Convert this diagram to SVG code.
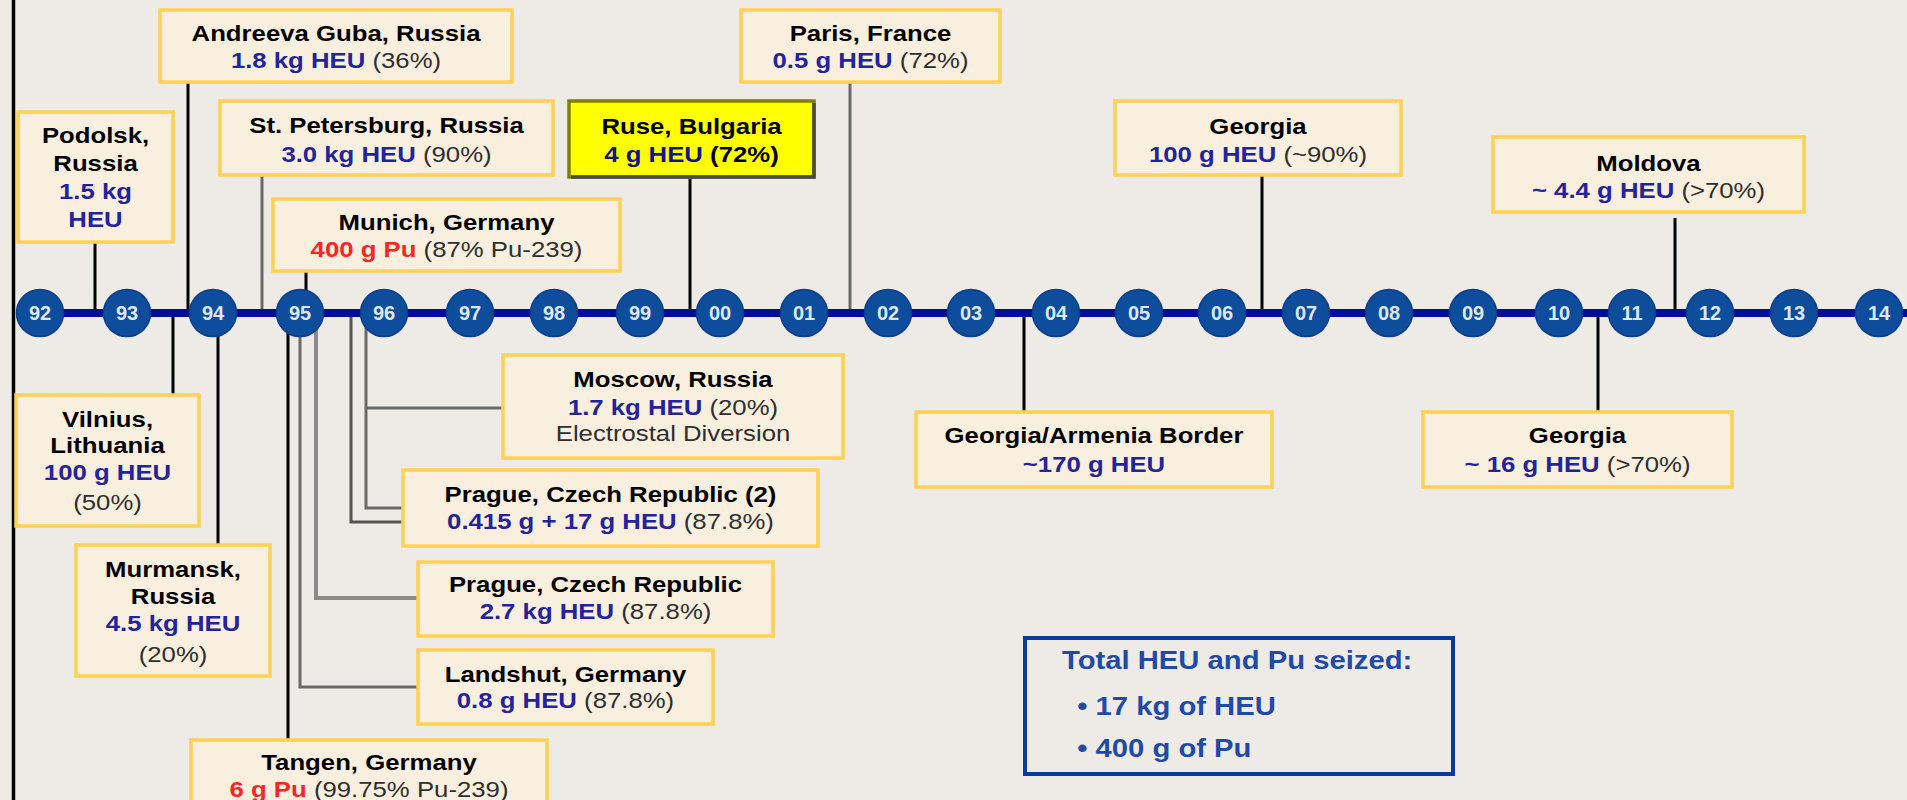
<svg xmlns="http://www.w3.org/2000/svg" width="1907" height="800" viewBox="0 0 1907 800">
<style>
.bg{fill:#eeebe6}
.bx{fill:#f9efdf;stroke:#fdd153;stroke-width:3.5}
.t{font-family:"Liberation Sans",Arial,sans-serif;font-size:22px;text-anchor:middle}
.h{font-weight:bold;fill:#000}
.v{font-weight:bold;fill:#23239c}
.p{fill:#2e2e2e}
.r{font-weight:bold;fill:#ff2424}
.k{stroke:#000;stroke-width:3;fill:none}
.g1{stroke:#6a6a6a;stroke-width:3;fill:none}
.g2{stroke:#8a8a8a;stroke-width:4;fill:none}
.g3{stroke:#555;stroke-width:3;fill:none}
.yr{fill:#0e4c9c;stroke:#0b3e8e;stroke-width:1.5}
.yt{font-family:"Liberation Sans",Arial,sans-serif;font-size:20px;font-weight:bold;fill:#dfe7f3;text-anchor:middle}
.tot{font-family:"Liberation Sans",Arial,sans-serif;font-size:25px;font-weight:bold;fill:#1f4aa6}
</style>
<rect class="bg" x="0" y="0" width="1907" height="800"/>
<line x1="13.5" y1="0" x2="13.5" y2="800" stroke="#000" stroke-width="3.5"/>

<g id="connectors">
<line class="k" x1="95" y1="242" x2="95" y2="313"/>
<line class="k" x1="188" y1="82" x2="188" y2="313"/>
<line class="g1" x1="262" y1="175" x2="262" y2="313"/>
<line class="k" x1="306" y1="271" x2="306" y2="313"/>
<line class="k" x1="690" y1="177" x2="690" y2="313"/>
<line class="g1" x1="850" y1="82" x2="850" y2="313"/>
<line class="k" x1="1262" y1="175" x2="1262" y2="313"/>
<line class="k" x1="1675" y1="218" x2="1675" y2="313"/>
<line class="k" x1="173" y1="313" x2="173" y2="395"/>
<line class="k" x1="218" y1="313" x2="218" y2="545"/>
<line class="k" x1="288" y1="313" x2="288" y2="740"/>
<polyline class="g1" points="300,313 300,687 418,687"/>
<polyline class="g2" points="316,313 316,598 418,598"/>
<polyline class="g3" points="351,313 351,522 403,522"/>
<polyline class="g1" points="366,313 366,508 403,508"/>
<line class="g1" x1="366" y1="408" x2="503" y2="408"/>
<line class="k" x1="1024" y1="313" x2="1024" y2="412"/>
<line class="k" x1="1598" y1="313" x2="1598" y2="412"/>
</g>

<g id="timeline">
<line x1="16" y1="313" x2="1907" y2="313" stroke="#000d94" stroke-width="8"/>
<g id="y92"><circle class="yr" cx="40" cy="313" r="23.5"/><text class="yt" x="40" y="320">92</text></g>
<g id="y93"><circle class="yr" cx="127" cy="313" r="23.5"/><text class="yt" x="127" y="320">93</text></g>
<g id="y94"><circle class="yr" cx="213" cy="313" r="23.5"/><text class="yt" x="213" y="320">94</text></g>
<g id="y95"><circle class="yr" cx="300" cy="313" r="23.5"/><text class="yt" x="300" y="320">95</text></g>
<g id="y96"><circle class="yr" cx="384" cy="313" r="23.5"/><text class="yt" x="384" y="320">96</text></g>
<g id="y97"><circle class="yr" cx="470" cy="313" r="23.5"/><text class="yt" x="470" y="320">97</text></g>
<g id="y98"><circle class="yr" cx="554" cy="313" r="23.5"/><text class="yt" x="554" y="320">98</text></g>
<g id="y99"><circle class="yr" cx="640" cy="313" r="23.5"/><text class="yt" x="640" y="320">99</text></g>
<g id="y00"><circle class="yr" cx="720" cy="313" r="23.5"/><text class="yt" x="720" y="320">00</text></g>
<g id="y01"><circle class="yr" cx="804" cy="313" r="23.5"/><text class="yt" x="804" y="320">01</text></g>
<g id="y02"><circle class="yr" cx="888" cy="313" r="23.5"/><text class="yt" x="888" y="320">02</text></g>
<g id="y03"><circle class="yr" cx="971" cy="313" r="23.5"/><text class="yt" x="971" y="320">03</text></g>
<g id="y04"><circle class="yr" cx="1056" cy="313" r="23.5"/><text class="yt" x="1056" y="320">04</text></g>
<g id="y05"><circle class="yr" cx="1139" cy="313" r="23.5"/><text class="yt" x="1139" y="320">05</text></g>
<g id="y06"><circle class="yr" cx="1222" cy="313" r="23.5"/><text class="yt" x="1222" y="320">06</text></g>
<g id="y07"><circle class="yr" cx="1306" cy="313" r="23.5"/><text class="yt" x="1306" y="320">07</text></g>
<g id="y08"><circle class="yr" cx="1389" cy="313" r="23.5"/><text class="yt" x="1389" y="320">08</text></g>
<g id="y09"><circle class="yr" cx="1473" cy="313" r="23.5"/><text class="yt" x="1473" y="320">09</text></g>
<g id="y10"><circle class="yr" cx="1559" cy="313" r="23.5"/><text class="yt" x="1559" y="320">10</text></g>
<g id="y11"><circle class="yr" cx="1632" cy="313" r="23.5"/><text class="yt" x="1632" y="320">11</text></g>
<g id="y12"><circle class="yr" cx="1710" cy="313" r="23.5"/><text class="yt" x="1710" y="320">12</text></g>
<g id="y13"><circle class="yr" cx="1794" cy="313" r="23.5"/><text class="yt" x="1794" y="320">13</text></g>
<g id="y14"><circle class="yr" cx="1879" cy="313" r="23.5"/><text class="yt" x="1879" y="320">14</text></g>
</g>

<g id="podolsk"><rect class="bx" x="18" y="112" width="155" height="130"/>
<g transform="matrix(1.17 0 0 1 95.5 0)">
<text class="t h" x="0" y="143">Podolsk,</text>
<text class="t h" x="0" y="171">Russia</text>
<text class="t v" x="0" y="199">1.5 kg</text>
<text class="t v" x="0" y="227">HEU</text></g></g>

<g id="andreeva"><rect class="bx" x="160" y="10" width="352" height="72"/>
<g transform="matrix(1.17 0 0 1 336 0)">
<text class="t h" x="0" y="41">Andreeva Guba, Russia</text>
<text class="t" x="0" y="68"><tspan class="v">1.8 kg HEU</tspan> <tspan class="p">(36%)</tspan></text></g></g>

<g id="stpetersburg"><rect class="bx" x="220" y="101" width="333" height="74"/>
<g transform="matrix(1.17 0 0 1 386.5 0)">
<text class="t h" x="0" y="133">St. Petersburg, Russia</text>
<text class="t" x="0" y="162"><tspan class="v">3.0 kg HEU</tspan> <tspan class="p">(90%)</tspan></text></g></g>

<g id="munich"><rect class="bx" x="273" y="199" width="347" height="72"/>
<g transform="matrix(1.17 0 0 1 446.5 0)">
<text class="t h" x="0" y="230">Munich, Germany</text>
<text class="t" x="0" y="257"><tspan class="r">400 g Pu</tspan> <tspan class="p">(87% Pu-239)</tspan></text></g></g>

<g id="ruse"><rect x="569" y="101" width="245" height="76" fill="#ffff00" stroke="#808000" stroke-width="3.5"/>
<polyline points="814,103 814,177 571,177" fill="none" stroke="#4a4a4a" stroke-width="3.5"/>
<g transform="matrix(1.17 0 0 1 691.5 0)">
<text class="t h" x="0" y="134">Ruse, Bulgaria</text>
<text class="t h" x="0" y="162"><tspan fill="#12128f">4 g HEU</tspan> (72%)</text></g></g>

<g id="paris"><rect class="bx" x="741" y="10" width="259" height="72"/>
<g transform="matrix(1.17 0 0 1 870.5 0)">
<text class="t h" x="0" y="41">Paris, France</text>
<text class="t" x="0" y="68"><tspan class="v">0.5 g HEU</tspan> <tspan class="p">(72%)</tspan></text></g></g>

<g id="georgia2006"><rect class="bx" x="1115" y="101" width="286" height="74"/>
<g transform="matrix(1.17 0 0 1 1258 0)">
<text class="t h" x="0" y="134">Georgia</text>
<text class="t" x="0" y="162"><tspan class="v">100 g HEU</tspan> <tspan class="p">(~90%)</tspan></text></g></g>

<g id="moldova"><rect class="bx" x="1493" y="137" width="311" height="75"/>
<g transform="matrix(1.17 0 0 1 1648.5 0)">
<text class="t h" x="0" y="171">Moldova</text>
<text class="t" x="0" y="198"><tspan class="v">~ 4.4 g HEU</tspan> <tspan class="p">(&gt;70%)</tspan></text></g></g>

<g id="vilnius"><rect class="bx" x="16" y="395" width="183" height="131"/>
<g transform="matrix(1.17 0 0 1 107.5 0)">
<text class="t h" x="0" y="427">Vilnius,</text>
<text class="t h" x="0" y="453">Lithuania</text>
<text class="t v" x="0" y="480">100 g HEU</text>
<text class="t p" x="0" y="510">(50%)</text></g></g>

<g id="murmansk"><rect class="bx" x="76" y="545" width="194" height="131"/>
<g transform="matrix(1.17 0 0 1 173 0)">
<text class="t h" x="0" y="577">Murmansk,</text>
<text class="t h" x="0" y="604">Russia</text>
<text class="t v" x="0" y="631">4.5 kg HEU</text>
<text class="t p" x="0" y="662">(20%)</text></g></g>

<g id="tangen"><rect class="bx" x="191" y="740" width="356" height="80"/>
<g transform="matrix(1.17 0 0 1 369 0)">
<text class="t h" x="0" y="770">Tangen, Germany</text>
<text class="t" x="0" y="797"><tspan class="r">6 g Pu</tspan> <tspan class="p">(99.75% Pu-239)</tspan></text></g></g>

<g id="moscow"><rect class="bx" x="503" y="355" width="340" height="103"/>
<g transform="matrix(1.17 0 0 1 673 0)">
<text class="t h" x="0" y="387">Moscow, Russia</text>
<text class="t" x="0" y="415"><tspan class="v">1.7 kg HEU</tspan> <tspan class="p">(20%)</tspan></text>
<text class="t p" x="0" y="441">Electrostal Diversion</text></g></g>

<g id="prague2"><rect class="bx" x="403" y="470" width="415" height="76"/>
<g transform="matrix(1.17 0 0 1 610.5 0)">
<text class="t h" x="0" y="502">Prague, Czech Republic (2)</text>
<text class="t" x="0" y="529"><tspan class="v">0.415 g + 17 g HEU</tspan> <tspan class="p">(87.8%)</tspan></text></g></g>

<g id="prague"><rect class="bx" x="418" y="562" width="355" height="74"/>
<g transform="matrix(1.17 0 0 1 595.5 0)">
<text class="t h" x="0" y="592">Prague, Czech Republic</text>
<text class="t" x="0" y="619"><tspan class="v">2.7 kg HEU</tspan> <tspan class="p">(87.8%)</tspan></text></g></g>

<g id="landshut"><rect class="bx" x="418" y="650" width="295" height="74"/>
<g transform="matrix(1.17 0 0 1 565.5 0)">
<text class="t h" x="0" y="682">Landshut, Germany</text>
<text class="t" x="0" y="708"><tspan class="v">0.8 g HEU</tspan> <tspan class="p">(87.8%)</tspan></text></g></g>

<g id="georgia-armenia"><rect class="bx" x="916" y="412" width="356" height="75"/>
<g transform="matrix(1.17 0 0 1 1094 0)">
<text class="t h" x="0" y="443">Georgia/Armenia Border</text>
<text class="t v" x="0" y="472">~170 g HEU</text></g></g>

<g id="georgia2010"><rect class="bx" x="1423" y="412" width="309" height="75"/>
<g transform="matrix(1.17 0 0 1 1577.5 0)">
<text class="t h" x="0" y="443">Georgia</text>
<text class="t" x="0" y="472"><tspan class="v">~ 16 g HEU</tspan> <tspan class="p">(&gt;70%)</tspan></text></g></g>

<g id="total"><rect x="1025" y="638" width="428" height="136" fill="none" stroke="#0a3aa0" stroke-width="4"/>
<g transform="matrix(1.17 0 0 1 1062 0)">
<text class="tot" x="0" y="669">Total HEU and Pu seized:</text>
<text class="tot" x="13" y="715">• 17 kg of HEU</text>
<text class="tot" x="13" y="757">• 400 g of Pu</text></g></g>
</svg>
